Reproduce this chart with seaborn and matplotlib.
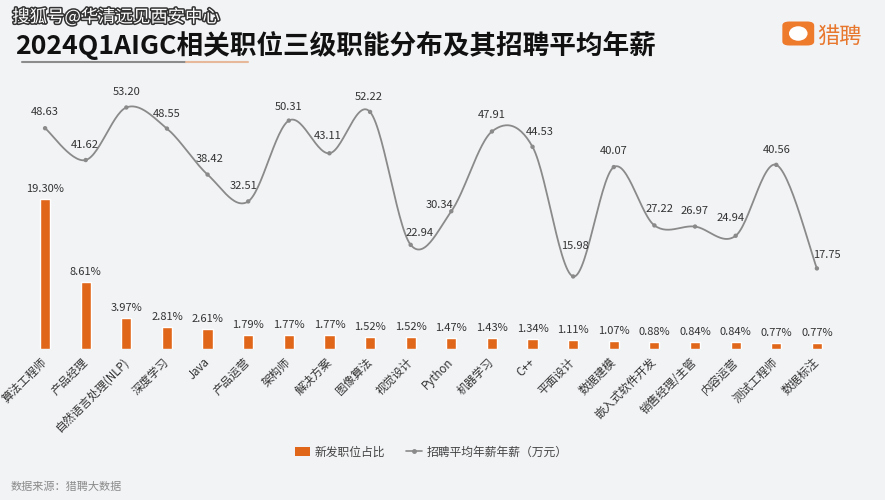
import numpy as np
import pandas as pd
import matplotlib
matplotlib.use("Agg")
import matplotlib.pyplot as plt
import matplotlib.patheffects as pe
from matplotlib.patches import Patch, FancyBboxPatch, Ellipse
from matplotlib.lines import Line2D
import seaborn as sns

# ---------------- data ----------------
categories = ["算法工程师", "产品经理", "自然语言处理(NLP)", "深度学习", "Java", "产品运营",
              "架构师", "解决方案", "图像算法", "视觉设计", "Python", "机器学习", "C++",
              "平面设计", "数据建模", "嵌入式软件开发", "销售经理/主管", "内容运营",
              "测试工程师", "数据标注"]
share_pct = [19.30, 8.61, 3.97, 2.81, 2.61, 1.79, 1.77, 1.77, 1.52, 1.52, 1.47, 1.43,
             1.34, 1.11, 1.07, 0.88, 0.84, 0.84, 0.77, 0.77]
salary = [48.63, 41.62, 53.20, 48.55, 38.42, 32.51, 50.31, 43.11, 52.22, 22.94, 30.34,
          47.91, 44.53, 15.98, 40.07, 27.22, 26.97, 24.94, 40.56, 17.75]
title = "2024Q1AIGC相关职位三级职能分布及其招聘平均年薪"
legend_bar = "新发职位占比"
legend_line = "招聘平均年薪年薪（万元）"
source = "数据来源：猎聘大数据"
watermark = "搜狐号@华清远见西安中心"
brand = "猎聘"

# label offsets (pixels) for salary labels
lab_off = [(0, 16), (-1, 15), (0, 15), (0, 15), (2, 16), (-5, 15), (0, 14), (-2, 17),
           (-1, 15), (9, 12), (-12, 6), (0, 16), (7, 15), (2, 30), (0, 16), (5, 16),
           (0, 16), (-5, 18), (0, 15), (10, 13)]

BG = "#f2f3f5"
ORANGE = "#e0661a"
GRAY = "#8a8a8a"

sns.set_style("white")
plt.rcParams["font.family"] = ["Noto Sans CJK SC", "DejaVu Sans"]

fig = plt.figure(figsize=(8.85, 5.0), dpi=100, facecolor=BG)
ax = fig.add_axes([0.028, 0.302, 0.918, 0.538])
ax.set_facecolor("none")

df = pd.DataFrame({"cat": categories, "share": share_pct, "salary": salary})
sns.barplot(data=df, x="cat", y="share", ax=ax, color=ORANGE, width=0.25,
            saturation=1, order=categories)
ax.set_xlim(-0.5, len(categories) - 0.5)
ax.set_ylim(0, 34.6)
for i, v in enumerate(share_pct):
    ax.annotate(f"{v:.2f}%", (i, v), xytext=(0, 5), textcoords="offset pixels",
                ha="center", va="bottom", fontsize=8, color="#333333")

ax.set_xticks(range(len(categories)))
ax.set_xticklabels(categories, rotation=45, ha="right", va="center",
                   rotation_mode="anchor", fontsize=8.3, color="#333333")
ax.tick_params(axis="x", length=0, pad=8)
ax.set_xlabel("")
ax.set_ylabel("")
ax.set_yticks([])
for s in ax.spines.values():
    s.set_visible(False)

# smooth line (Catmull-Rom through the data points)
ax2 = ax.twinx()
xp = np.arange(len(salary), dtype=float)
yp = np.array(salary, dtype=float)
P = np.vstack([xp, yp]).T
Pp = np.vstack([P[0], P, P[-1]])
pts = []
tt = np.linspace(0, 1, 30)
for i in range(len(P) - 1):
    p0, p1, p2, p3 = Pp[i], Pp[i + 1], Pp[i + 2], Pp[i + 3]
    t = tt[:, None]
    seg = 0.5 * (2 * p1 + (-p0 + p2) * t + (2 * p0 - 5 * p1 + 4 * p2 - p3) * t ** 2
                 + (-p0 + 3 * p1 - 3 * p2 + p3) * t ** 3)
    pts.append(seg if i == 0 else seg[1:])
curve = np.vstack(pts)
sns.lineplot(x=curve[:, 0], y=curve[:, 1], ax=ax2, color=GRAY, linewidth=1.3,
             sort=False, estimator=None)
sns.scatterplot(x=xp, y=yp, ax=ax2, color=GRAY, s=10, edgecolor="none", zorder=3)
ax2.set_ylim(0, 59.25)
ax2.set_xlim(-0.5, len(categories) - 0.5)
ax2.set_yticks([])
ax2.set_ylabel("")
for s in ax2.spines.values():
    s.set_visible(False)
for i, v in enumerate(salary):
    dx, dy = lab_off[i]
    ax2.annotate(f"{v:.2f}", (i, v), xytext=(dx, dy), textcoords="offset pixels",
                 ha="center", va="center", fontsize=8, color="#333333")

# legend
handles = [Patch(facecolor=ORANGE, edgecolor="none", label=legend_bar),
           Line2D([0], [0], color=GRAY, lw=1.2, marker="o", markersize=2.5,
                  label=legend_line)]
fig.legend(handles=handles, loc="center", bbox_to_anchor=(0.487, 0.096), ncol=2,
           frameon=False, fontsize=8.5, handlelength=1.3, handleheight=0.8,
           columnspacing=1.8, handletextpad=0.4, labelcolor="#444444")

# titles and decorations
fig.text(0.017, 0.91, title, fontsize=19.2, fontweight="bold", color="#111111",
         ha="left", va="center")
fig.text(0.014, 0.966, watermark, fontsize=12.5, color="white", ha="left", va="center",
         path_effects=[pe.withStroke(linewidth=2.2, foreground="#333333")])
fig.add_artist(Line2D([0.025, 0.21], [0.876, 0.876], color="#8c8c8c", lw=1.5,
                      transform=fig.transFigure))
fig.add_artist(Line2D([0.21, 0.28], [0.876, 0.876], color="#e8b89a", lw=1.5,
                      transform=fig.transFigure))
fig.add_artist(FancyBboxPatch((0.887, 0.912), 0.03, 0.042,
                              boxstyle="round,pad=0.003,rounding_size=0.008",
                              transform=fig.transFigure, facecolor="#ee7a2c",
                              edgecolor="none"))
fig.add_artist(Ellipse((0.902, 0.933), 0.021, 0.029, transform=fig.transFigure,
                       facecolor="white", edgecolor="none"))
fig.text(0.923, 0.928, brand, fontsize=16, color="#e8772e", ha="left", va="center")

fig.text(0.012, 0.026, source, fontsize=8, color="#8a8a8a", ha="left", va="center")

fig.savefig("out.png", dpi=100, facecolor=BG)
